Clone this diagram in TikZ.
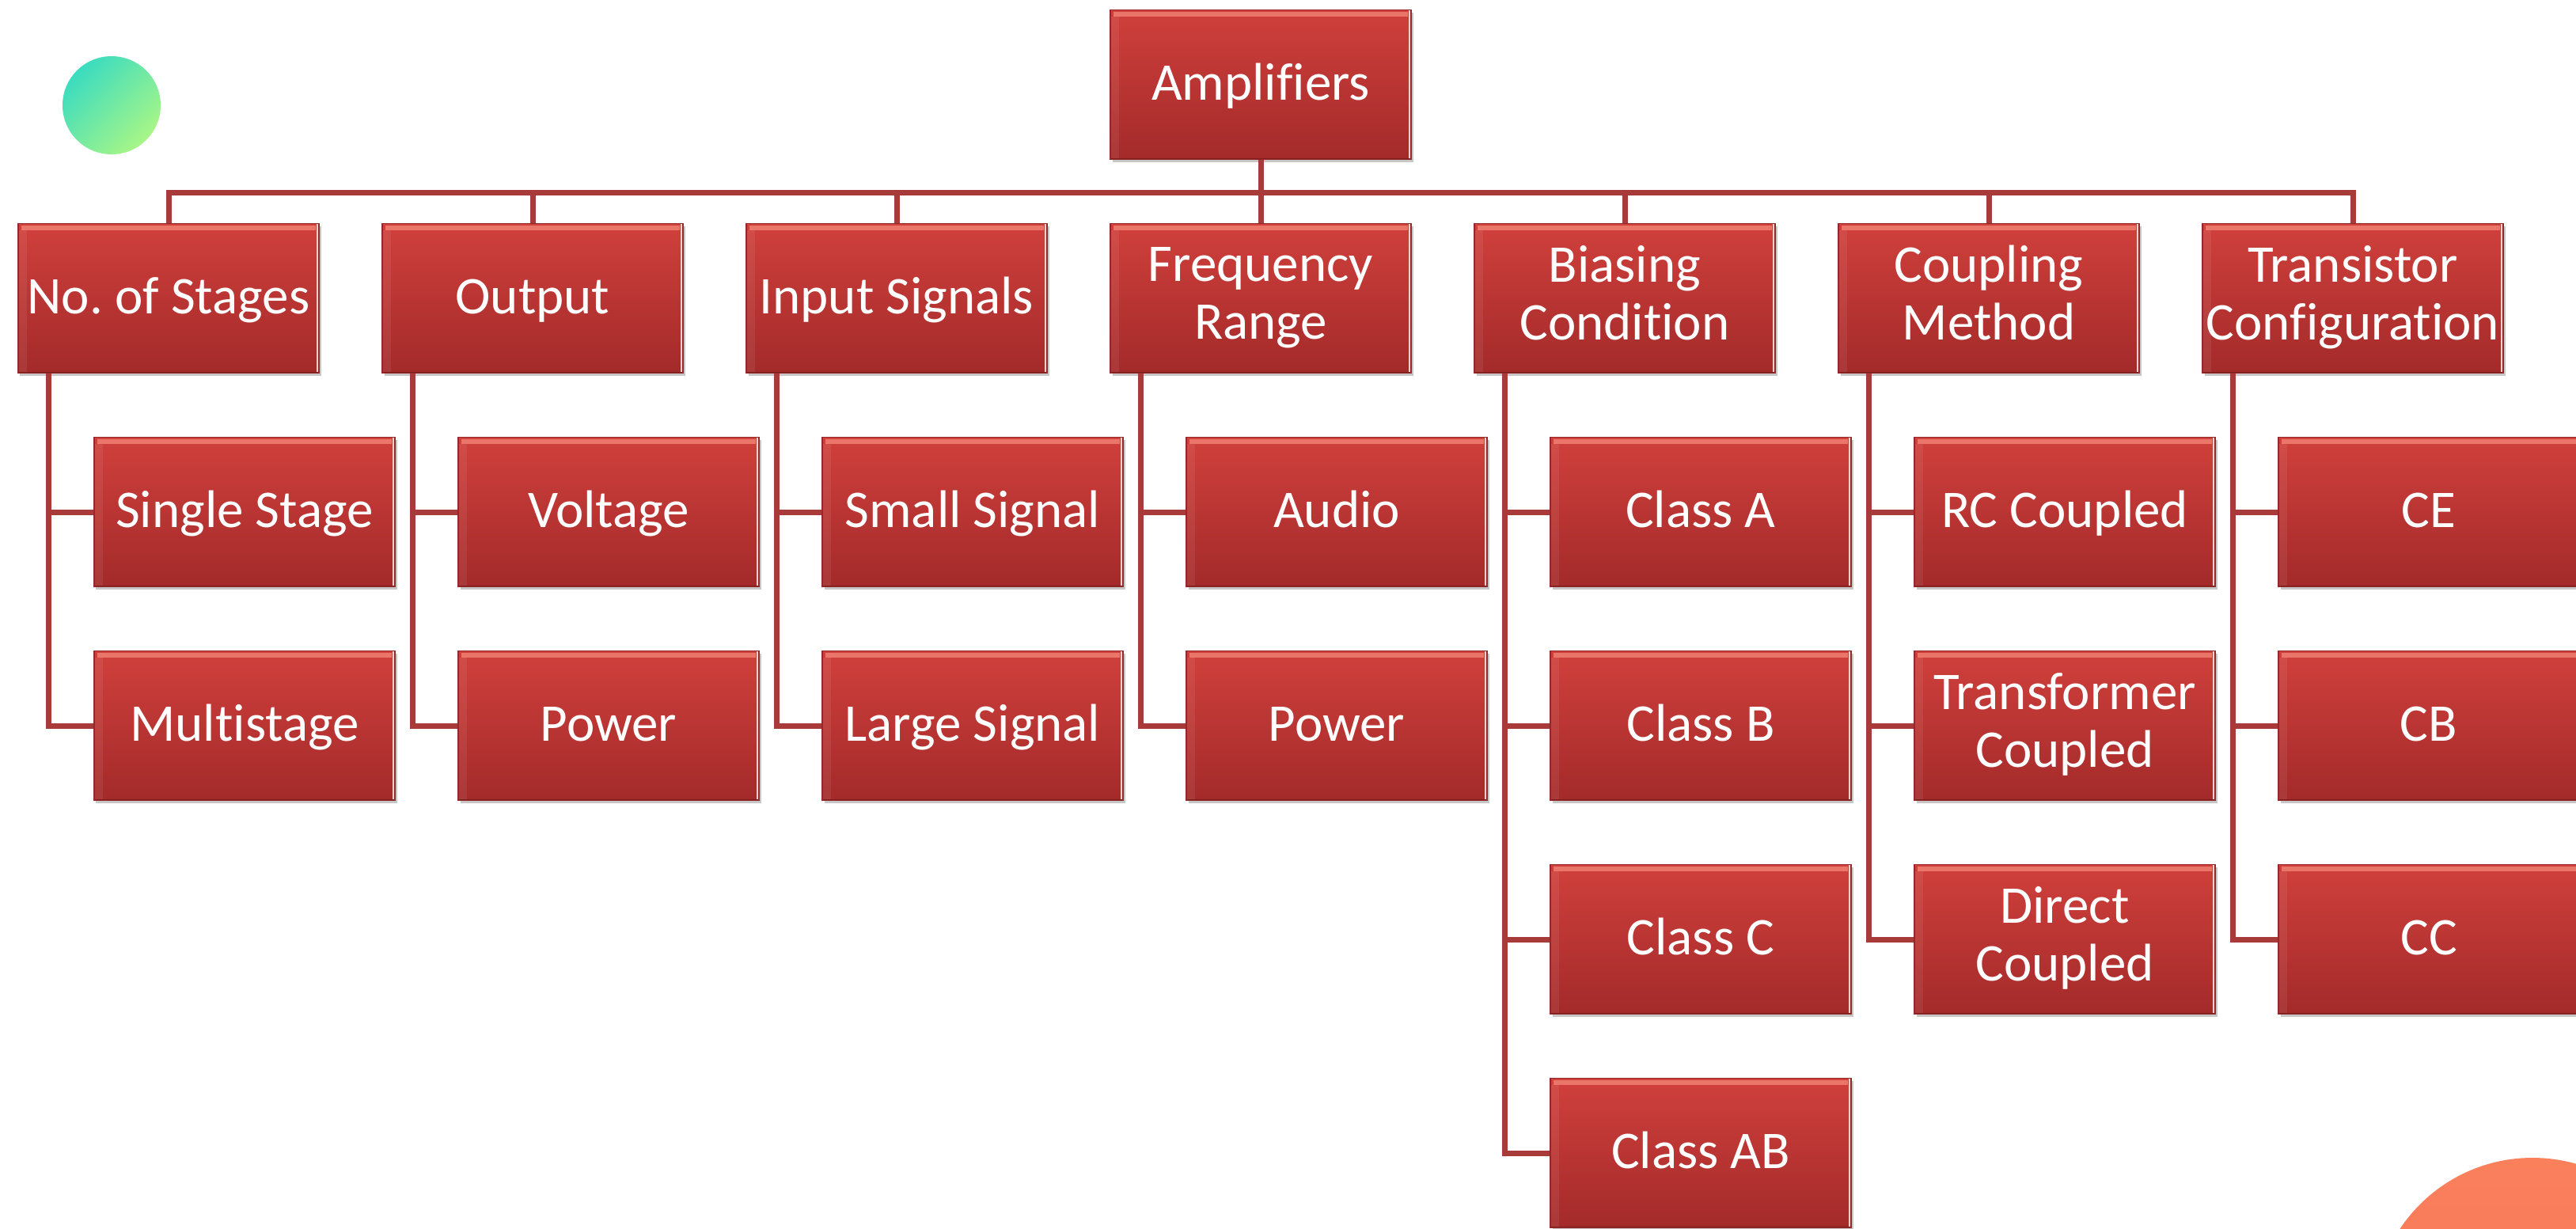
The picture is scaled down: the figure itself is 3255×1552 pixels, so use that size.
\documentclass[tikz,border=0pt]{standalone}
\usepackage{fontspec}
\setmainfont{Carlito}[Ligatures=NoCommon]
\usetikzlibrary{shadows}
\frenchspacing

\definecolor{boxtop}{RGB}{208,64,60}
\definecolor{boxbot}{RGB}{163,42,42}
\definecolor{boxedge}{RGB}{150,40,40}
\definecolor{bevel}{RGB}{238,128,114}
\definecolor{edgepink}{RGB}{250,205,205}
\definecolor{conncol}{RGB}{168,58,58}
\definecolor{tealc}{RGB}{58,220,192}
\definecolor{limec}{RGB}{168,246,134}
\definecolor{orangeA}{RGB}{250,128,92}
\definecolor{orangeB}{RGB}{252,112,88}

% invisible struts giving every text line the same height and depth
\newcommand{\linestrut}{\rule[-2.8pt]{0pt}{13.2pt}}
\newcommand{\tallstrut}{\rule[-2.8pt]{0pt}{14.8pt}}

\tikzset{
  orgbox/.style={
    rectangle, minimum width=76pt, minimum height=37.8pt, inner sep=0pt,
    text=white, align=center, font=\fontsize{13.4}{14.6}\selectfont,
    execute at begin node=\linestrut, execute at end node=\linestrut,
    top color=boxtop, bottom color=boxbot, draw=boxedge, line width=0.3pt,
    drop shadow={shadow xshift=0.5pt, shadow yshift=-0.7pt, opacity=0.22, fill=black},
    path picture={
      % raised top bevel
      \fill[bevel, opacity=0.85]
        ([shift={(0.8pt,-0.5pt)}]path picture bounding box.north west) rectangle
        ([shift={(-0.8pt,-1.7pt)}]path picture bounding box.north east);
      % lighter left bevel
      \fill[white, opacity=0.07]
        ([shift={(0pt,-1.7pt)}]path picture bounding box.north west) rectangle
        ([shift={(2.2pt,0pt)}]path picture bounding box.south west);
      % pale right rim
      \draw[edgepink, line width=0.5pt]
        ([xshift=-0.4pt]path picture bounding box.north east) --
        ([xshift=-0.4pt]path picture bounding box.south east);
      % darker bottom rim
      \draw[boxbot!75!black, line width=0.6pt]
        (path picture bounding box.south west) -- (path picture bounding box.south east);
    }
  },
  twoline/.style={execute at begin node=\tallstrut},
  conn/.style={draw=conncol, line width=1.4pt}
}

\begin{document}
\begin{tikzpicture}[x=0.2pt, y=-0.2pt]
\clip (0,0) rectangle (3255,1552);
\useasboundingbox (0,0) rectangle (3255,1552);
\fill[white] (0,0) rectangle (3255,1552);

% decorative dots
\shade[top color=tealc, bottom color=limec, shading angle=45] (141,133) circle (12.4pt);
\shade[top color=orangeA, bottom color=orangeB] (3200,1664) circle (40.2pt);

% bus level
\coordinate (bus) at (0,243);

% root
\node[orgbox] (amp) at (1593,107) {Amplifiers};

% first level
\node[orgbox] (stg) at (213,377)  {No. of Stages};
\node[orgbox] (out) at (673,377)  {Output};
\node[orgbox] (inp) at (1133,377) {Input Signals};
\node[orgbox, twoline] (frq) at (1593,377) {Frequency\\Range};
\node[orgbox, twoline] (bia) at (2053,377) {Biasing\\Condition};
\node[orgbox, twoline] (cpl) at (2513,377) {Coupling\\Method};
\node[orgbox, twoline] (trn) at (2973,377) {Transistor\\Configuration};

% second level
\node[orgbox] (stg1) at (309,647)  {Single Stage};
\node[orgbox] (stg2) at (309,917)  {Multistage};
\node[orgbox] (out1) at (769,647)  {Voltage};
\node[orgbox] (out2) at (769,917)  {Power};
\node[orgbox] (inp1) at (1229,647) {Small Signal};
\node[orgbox] (inp2) at (1229,917) {Large Signal};
\node[orgbox] (frq1) at (1689,647) {Audio};
\node[orgbox] (frq2) at (1689,917) {Power};
\node[orgbox] (bia1) at (2149,647) {Class A};
\node[orgbox] (bia2) at (2149,917) {Class B};
\node[orgbox] (bia3) at (2149,1187) {Class C};
\node[orgbox] (bia4) at (2149,1457) {Class AB};
\node[orgbox] (cpl1) at (2609,647) {RC Coupled};
\node[orgbox, twoline] (cpl2) at (2609,917) {Transformer\\Coupled};
\node[orgbox, twoline] (cpl3) at (2609,1187) {Direct\\Coupled};
\node[orgbox] (trn1) at (3069,647) {CE};
\node[orgbox] (trn2) at (3069,917) {CB};
\node[orgbox] (trn3) at (3069,1187) {CC};

% root to first level
\foreach \c in {stg,out,inp,frq,bia,cpl,trn}
  \draw[conn] (amp.south) -- (amp.south |- bus) -| (\c.north);

% first level to second level
\foreach \p/\c in {stg/stg1,stg/stg2,out/out1,out/out2,inp/inp1,inp/inp2,
                   frq/frq1,frq/frq2,bia/bia1,bia/bia2,bia/bia3,bia/bia4,
                   cpl/cpl1,cpl/cpl2,cpl/cpl3,trn/trn1,trn/trn2,trn/trn3}
  \draw[conn] ([xshift=7.8pt]\p.south west) |- (\c.west);
\end{tikzpicture}
\end{document}
